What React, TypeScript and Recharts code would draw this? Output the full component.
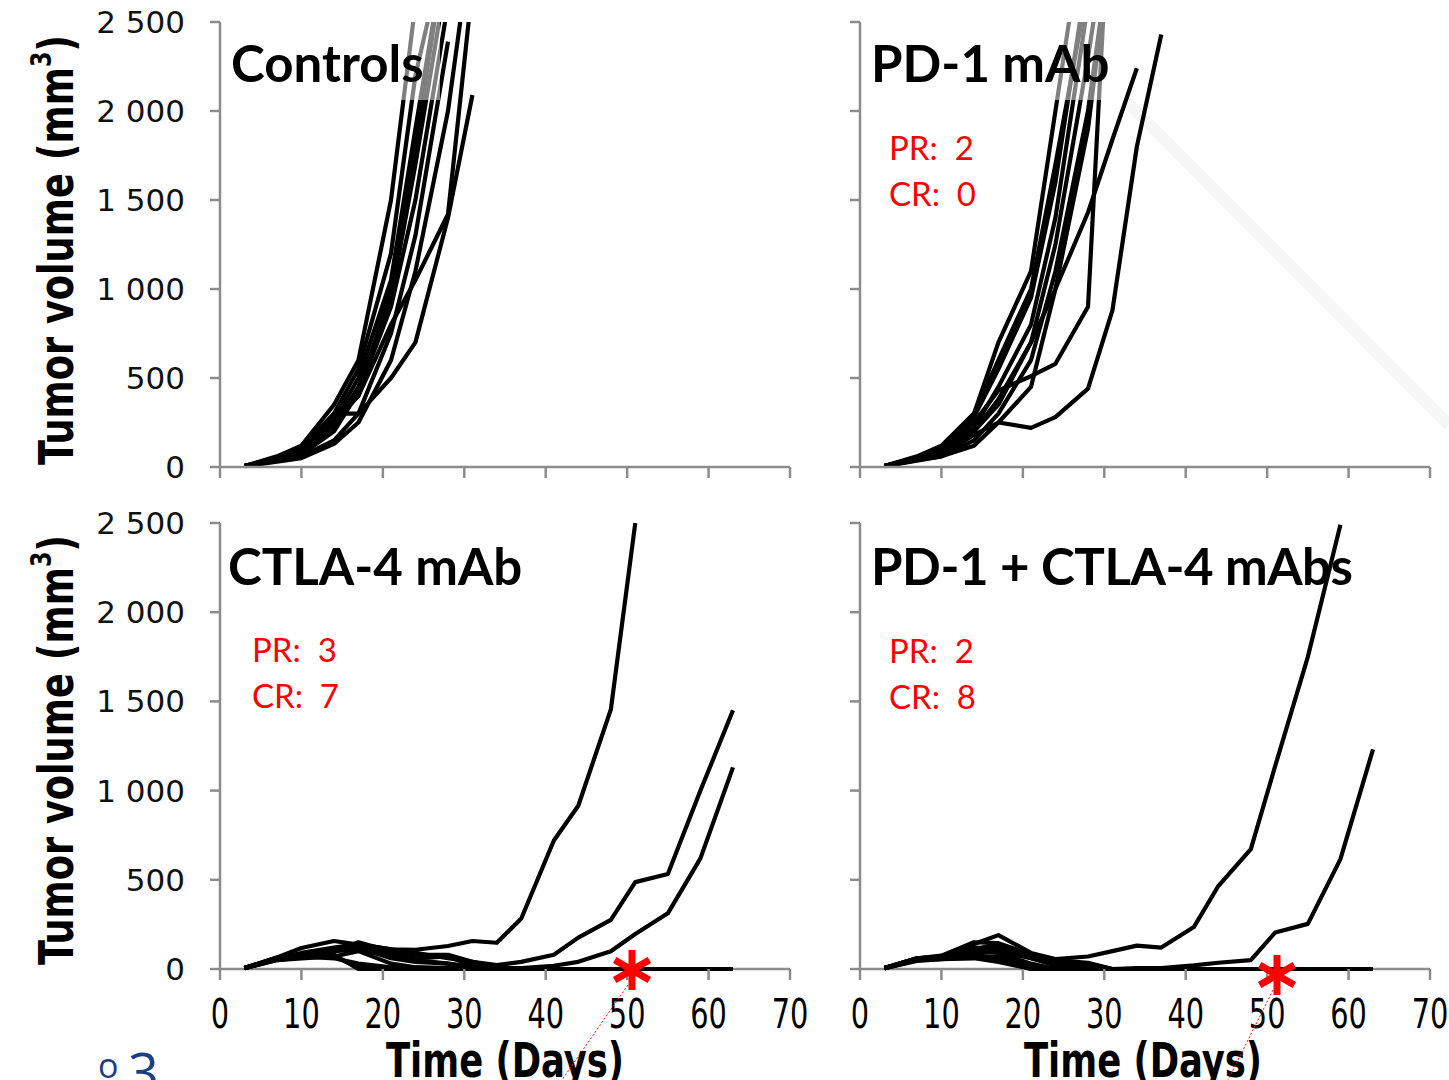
import { LineChart, Line, XAxis, YAxis } from "recharts";

// measurement days (x) shared by every mouse
const DAYS = [3, 7, 10, 14, 17, 21, 24, 28, 31, 34, 37, 41, 44, 48, 51, 55, 59, 63];
const X_TICKS = [0, 10, 20, 30, 40, 50, 60, 70];
const Y_TICKS = [0, 500, 1000, 1500, 2000, 2500];

// tumor volume per mouse (mm3), one array per mouse
const CONTROLS = [
  [5, 60, 120, 350, 600, 1500, 2600],
  [5, 50, 100, 300, 550, 1200, 2200, 3000],
  [5, 45, 90, 260, 500, 1050, 1900, 3000],
  [5, 40, 80, 230, 450, 950, 1700, 2800],
  [5, 40, 70, 200, 420, 900, 1500, 2600],
  [5, 35, 60, 150, 300, 750, 1300, 2390],
  [5, 30, 50, 130, 250, 600, 1100, 2000, 3000],
  [5, 50, 110, 300, 300, 500, 700, 1400, 2090],
  [5, 40, 90, 280, 400, 800, 1050, 1420, 2700],
  [5, 45, 80, 250, 400, 1000, 1800, 3000],
];

const PD1 = [
  [5, 40, 70, 180, 250, 220, 280, 440, 880, 1800, 2430],
  [5, 50, 90, 250, 430, 510, 580, 900, 3500],
  [5, 50, 80, 200, 350, 700, 1000, 1430, 1840, 2240],
  [5, 60, 120, 300, 700, 1100, 2000, 3200],
  [5, 55, 110, 300, 600, 1000, 1700, 2700],
  [5, 50, 100, 280, 550, 950, 1600, 2800],
  [5, 45, 90, 220, 450, 800, 1400, 2600],
  [5, 40, 80, 200, 380, 700, 1250, 2300, 3200],
  [5, 40, 60, 150, 300, 600, 1100, 2000, 3000],
  [5, 35, 60, 120, 250, 450, 1000, 1900, 3000],
];

const CTLA4 = [
  [5, 65, 118, 157, 137, 110, 108, 129, 157, 147, 283, 720, 915, 1455, 2500],
  [5, 60, 90, 120, 140, 110, 90, 60, 40, 22, 40, 80, 176, 275, 487, 533, 1000, 1450],
  [5, 55, 80, 100, 110, 70, 50, 30, 15, 5, 5, 18, 40, 100, 196, 312, 620, 1130],
  [5, 65, 80, 95, 150, 100, 80, 80, 40, 10, 0, 0, 0, 0, 0, 0, 0, 0],
  [5, 60, 75, 80, 0, 0, 0, 0, 0, 0, 0, 0, 0, 0, 0, 0, 0, 0],
  [5, 50, 65, 70, 10, 0, 0, 0, 0, 0, 0, 0, 0, 0, 0, 0, 0, 0],
  [5, 55, 80, 110, 120, 60, 40, 30, 0, 0, 0, 0, 0, 0, 0, 0, 0, 0],
  [5, 60, 80, 100, 130, 90, 60, 70, 20, 0, 0, 0, 0, 0, 0, 0, 0, 0],
  [5, 55, 70, 60, 30, 10, 0, 0, 0, 0, 0, 0, 0, 0, 0, 0, 0, 0],
  [5, 50, 60, 70, 100, 30, 10, 5, 0, 0, 0, 0, 0, 0, 0, 0, 0, 0],
];

const COMBO = [
  [5, 60, 70, 140, 190, 90, 56, 70, 100, 131, 120, 235, 465, 672, 1140, 1750, 2490],
  [5, 55, 70, 110, 130, 80, 40, 30, 0, 5, 5, 20, 35, 50, 205, 253, 616, 1231],
  [5, 60, 75, 150, 145, 80, 50, 35, 0, 0, 0, 0, 0, 0, 0, 0, 0, 0],
  [5, 55, 70, 120, 115, 60, 20, 5, 0, 0, 0, 0, 0, 0, 0, 0, 0, 0],
  [5, 50, 65, 100, 90, 30, 0, 0, 0, 0, 0, 0, 0, 0, 0, 0, 0, 0],
  [5, 50, 60, 80, 60, 0, 0, 0, 0, 0, 0, 0, 0, 0, 0, 0, 0, 0],
  [5, 45, 55, 60, 40, 0, 0, 0, 0, 0, 0, 0, 0, 0, 0, 0, 0, 0],
  [5, 55, 65, 90, 100, 60, 30, 10, 0, 0, 0, 0, 0, 0, 0, 0, 0, 0],
  [5, 60, 70, 110, 140, 70, 35, 0, 0, 0, 0, 0, 0, 0, 0, 0, 0, 0],
  [5, 50, 55, 70, 70, 20, 0, 0, 0, 0, 0, 0, 0, 0, 0, 0, 0, 0],
];

const FONT_NARROW = "'DejaVu Sans Condensed', 'DejaVu Sans', sans-serif";
const FONT_TICK = "'DejaVu Sans', Verdana, sans-serif";
const FONT_TITLE = "Lato, 'Open Sans', sans-serif";
const AXIS = "#8c8c8c";

const formatVolume = (v: number) =>
  v >= 1000 ? `${Math.floor(v / 1000)} ${String(v % 1000).padStart(3, "0")}` : `${v}`;

const toPoints = (vals: number[]) => vals.map((v, i) => ({ day: DAYS[i], volume: v }));

// keeps the tick marks but draws no label
const NoLabel = () => <g />;

// squeezed day labels, like the narrow font of the original
const DayTick = ({ x, y, payload }: any) => (
  <text
    transform={`translate(${x},${y}) scale(0.8,1)`}
    textAnchor="middle"
    dy="0.71em"
    fontSize={40}
    fontFamily={FONT_NARROW}
    fill="#000"
  >
    {payload.value}
  </text>
);

function Panel({
  mice,
  left,
  top,
  bottomRow,
  leftCol,
}: {
  mice: number[][];
  left: number;
  top: number;
  bottomRow: boolean;
  leftCol: boolean;
}) {
  const height = bottomRow ? 580 : 500;
  return (
    <div style={{ position: "absolute", left, top }}>
      <LineChart
        width={840}
        height={height}
        margin={{ top: bottomRow ? 23 : 22, right: 50, bottom: 3, left: 0 }}
      >
        <XAxis
          type="number"
          dataKey="day"
          domain={[0, 70]}
          ticks={X_TICKS}
          interval={0}
          height={bottomRow ? 108 : 30}
          axisLine={bottomRow ? false : { stroke: AXIS, strokeWidth: 2.5 }}
          tickLine={{ stroke: AXIS, strokeWidth: 2.5 }}
          tickSize={11}
          tickMargin={20}
          tick={bottomRow ? DayTick : NoLabel}
        />
        <YAxis
          type="number"
          domain={[0, 2500]}
          ticks={Y_TICKS}
          interval={0}
          width={220}
          allowDataOverflow={!bottomRow}
          axisLine={{ stroke: AXIS, strokeWidth: 2.5 }}
          tickLine={{ stroke: AXIS, strokeWidth: 2.5 }}
          tickSize={10}
          tickMargin={25}
          tickFormatter={formatVolume}
          tick={leftCol ? { fill: "#111", fontSize: 31, fontFamily: FONT_TICK } : NoLabel}
        />
        {mice.map((vals, i) => (
          <Line
            key={i}
            data={toPoints(vals)}
            dataKey="volume"
            type="linear"
            stroke="#000"
            strokeWidth={4.2}
            strokeLinejoin="round"
            dot={false}
            activeDot={false}
            isAnimationActive={false}
          />
        ))}
      </LineChart>
    </div>
  );
}

const asterisk = (cx: number, cy: number) =>
  [90, 30, 150].map((a) => {
    const r = 20;
    const dx = r * Math.cos((a * Math.PI) / 180);
    const dy = r * Math.sin((a * Math.PI) / 180);
    return (
      <line
        key={a}
        x1={cx - dx}
        y1={cy - dy}
        x2={cx + dx}
        y2={cy + dy}
        stroke="#ff0000"
        strokeWidth={7}
      />
    );
  });

function YTitle({ cy }: { cy: number }) {
  return (
    <text
      transform={`translate(57, ${cy}) rotate(-90) scale(0.85, 1)`}
      x={0}
      y={0}
      textAnchor="middle"
      dominantBaseline="central"
      fontFamily={FONT_NARROW}
      fontWeight="bold"
      fontSize={48}
      fill="#000"
    >
      Tumor volume (mm
      <tspan fontSize={29} dy={-17}>
        3
      </tspan>
      <tspan dy={17}>)</tspan>
    </text>
  );
}

function RedCounts({ x, y, pr, cr }: { x: number; y: number; pr: number; cr: number }) {
  return (
    <g fill="#ff0000" fontFamily={FONT_TITLE} fontSize={33}>
      <text x={x} y={y}>{`PR:\u00a0 ${pr}`}</text>
      <text x={x} y={y + 46}>{`CR:\u00a0 ${cr}`}</text>
    </g>
  );
}

function XTitle({ cx }: { cx: number }) {
  return (
    <text
      transform={`translate(${cx}, 1077) scale(0.82, 1)`}
      x={0}
      y={0}
      textAnchor="middle"
      fontFamily={FONT_NARROW}
      fontWeight="bold"
      fontSize={48}
      fill="#000"
    >
      Time (Days)
    </text>
  );
}

export default function App() {
  return (
    <div
      style={{
        position: "absolute",
        left: 0,
        top: 0,
        width: 1449,
        height: 1080,
        overflow: "hidden",
        background: "#fff",
      }}
    >
      <svg width={1449} height={1080} style={{ position: "absolute", left: 0, top: 0 }}>
        <line x1={1125} y1={100} x2={1449} y2={425} stroke="#f6f6f6" strokeWidth={12} />
        {/* day axis lines of the lower panels, kept under the traces */}
        <line x1={220} y1={969} x2={790} y2={969} stroke={AXIS} strokeWidth={2.5} />
        <line x1={860} y1={969} x2={1430} y2={969} stroke={AXIS} strokeWidth={2.5} />
      </svg>

      <Panel mice={CONTROLS} left={0} top={0} bottomRow={false} leftCol />
      <Panel mice={PD1} left={640} top={0} bottomRow={false} leftCol={false} />
      <Panel mice={CTLA4} left={0} top={500} bottomRow leftCol />
      <Panel mice={COMBO} left={640} top={500} bottomRow leftCol={false} />

      <svg
        width={1449}
        height={1080}
        style={{ position: "absolute", left: 0, top: 0, pointerEvents: "none" }}
      >
        <rect x={222} y={22} width={218} height={78} fill="#fff" fillOpacity={0.5} />
        <rect x={862} y={22} width={243} height={78} fill="#fff" fillOpacity={0.5} />

        <g fontFamily={FONT_TITLE} fontWeight="bold" fontSize={51} fill="#000">
          <text x={231} y={82}>Controls</text>
          <text x={871} y={82}>PD-1 mAb</text>
          <text x={228} y={585}>CTLA-4 mAb</text>
          <text x={871} y={585} textLength={482}>PD-1 + CTLA-4 mAbs</text>
        </g>

        <RedCounts x={889} y={160} pr={2} cr={0} />
        <RedCounts x={252} y={662} pr={3} cr={7} />
        <RedCounts x={889} y={663} pr={2} cr={8} />

        <YTitle cy={250} />
        <YTitle cy={750} />

        <XTitle cx={505} />
        <XTitle cx={1143} />

        <line x1={628} y1={985} x2={562} y2={1080} stroke="#ff0000" strokeWidth={1} strokeDasharray="2 2" />
        <line x1={1273} y1={990} x2={1228} y2={1080} stroke="#ff0000" strokeWidth={1} strokeDasharray="2 2" />
        {asterisk(632, 970)}
        {asterisk(1277, 975)}

        <g fill="#1c3f7f" fontFamily="'Open Sans', sans-serif">
          <text x={98} y={1078} fontSize={34}>ο</text>
          <text x={128} y={1092} fontSize={54}>3</text>
        </g>
      </svg>
    </div>
  );
}
